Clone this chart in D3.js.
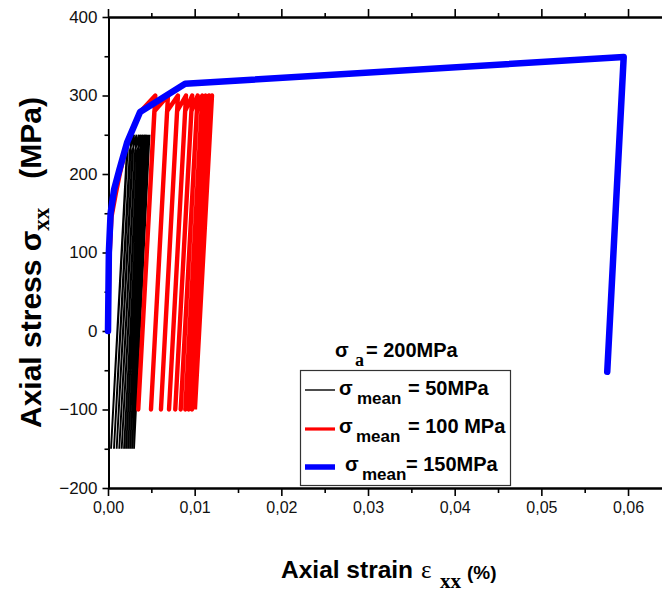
<!DOCTYPE html>
<html>
<head>
<meta charset="utf-8">
<script src="https://cdn.jsdelivr.net/npm/d3@7"></script>
<style>
  html, body { margin: 0; padding: 0; background: #fff; }
  svg { display: block; font-family: "Liberation Sans", Arial, sans-serif; }
</style>
</head>
<body>
<svg id="chart" width="662" height="592"></svg>
<script>
// ---------- data ----------
const xTicks = [0, 0.01, 0.02, 0.03, 0.04, 0.05, 0.06];
const yTicks = [-200, -100, 0, 100, 200, 300, 400];

// sigma_mean = 50 MPa (black)
const blackStrain = [0, 0.0002, 0.0004, 0.0009, 0.0014, 0.00236,
  0.00035, 0.00218, 0.00271,
  0.00069, 0.00252, 0.00300,
  0.00100, 0.00283, 0.00329,
  0.00130, 0.00313, 0.00358,
  0.00158, 0.00341, 0.00381,
  0.00185, 0.00368, 0.00404,
  0.00208, 0.00391, 0.00427,
  0.00231, 0.00414, 0.00444,
  0.00254, 0.00437, 0.00461,
  0.00277, 0.00460, 0.00479,
  0.00300];
const blackStress = [0, 100, 145, 175, 202, 250,
  -150, 230, 250,
  -150, 230, 250,
  -150, 230, 250,
  -150, 230, 250,
  -150, 230, 250,
  -150, 230, 250,
  -150, 230, 250,
  -150, 230, 250,
  -150, 230, 250,
  -150, 230, 250,
  -150];

// sigma_mean = 100 MPa (red)
const redStrain = [0, 0.0002, 0.0004, 0.0009, 0.0014, 0.0022, 0.0037, 0.00546,
  0.00349, 0.00535, 0.00692,
  0.00496, 0.00682, 0.00807,
  0.00611, 0.00797, 0.00900,
  0.00704, 0.00890, 0.00972,
  0.00776, 0.00962, 0.01035,
  0.00839, 0.01025, 0.01088,
  0.00892, 0.01078, 0.01127,
  0.00931, 0.01117, 0.01165,
  0.00969, 0.01155, 0.01200,
  0.01003];
const redStress = [0, 100, 145, 175, 202, 240, 279, 300,
  -100, 280, 300,
  -100, 280, 300,
  -100, 280, 300,
  -100, 280, 300,
  -100, 280, 300,
  -100, 280, 300,
  -100, 280, 300,
  -100, 280, 300,
  -100, 280, 300,
  -100];

// sigma_mean = 150 MPa (blue)
const blueStrain = [0, 0.0001, 0.0003, 0.0007, 0.0013, 0.0022, 0.0037, 0.0089, 0.0595, 0.0576];
const blueStress = [0, 100, 150, 180, 205, 240, 279, 315, 349, -52];

const seriesNames = ["= 50MPa", "= 100 MPa", "= 150MPa"];
const seriesColors = ["#000000", "#ff0000", "#0000ff"];

// ---------- drawing ----------
const svg = d3.select("#chart");
const x = d3.scaleLinear().domain([0, 0.064]).range([108, 662.7]);
const y = d3.scaleLinear().domain([-200, 400]).range([488, 17]);

const fmtX = d => d3.format(".2f")(d).replace(".", ",");

function styleAxis(size) {
  return g => {
    g.selectAll("path.domain").attr("stroke", "#000").attr("stroke-width", 2);
    g.selectAll(".tick line").attr("stroke", "#000").attr("stroke-width", 1.6);
    g.selectAll(".tick text").attr("fill", "#111")
      .style("font-family", "'Liberation Sans', Arial, sans-serif").style("font-size", size + "px");
  };
}

const xMinor = d3.range(0.005, 0.064, 0.01);
const yMinor = d3.range(-150, 400, 100);

// bottom
svg.append("g").attr("transform", "translate(0,488)")
  .call(d3.axisBottom(x).tickValues(xTicks).tickFormat(fmtX).tickSize(8).tickSizeOuter(0).tickPadding(6))
  .call(styleAxis(16));
svg.append("g").attr("transform", "translate(0,488)")
  .call(d3.axisBottom(x).tickValues(xMinor).tickFormat("").tickSize(5).tickSizeOuter(0))
  .call(styleAxis(16));
// top
svg.append("g").attr("transform", "translate(0,17)")
  .call(d3.axisTop(x).tickValues(xTicks).tickFormat("").tickSize(8).tickSizeOuter(0))
  .call(styleAxis(16));
svg.append("g").attr("transform", "translate(0,17)")
  .call(d3.axisTop(x).tickValues(xMinor).tickFormat("").tickSize(4).tickSizeOuter(0))
  .call(styleAxis(16));
// left
svg.append("g").attr("transform", "translate(108.5,0)")
  .call(d3.axisLeft(y).tickValues(yTicks).tickSize(6).tickSizeOuter(0).tickPadding(5))
  .call(styleAxis(17));
svg.append("g").attr("transform", "translate(108.5,0)")
  .call(d3.axisLeft(y).tickValues(yMinor).tickFormat("").tickSize(4).tickSizeOuter(0))
  .call(styleAxis(17));

const line = d3.line().x(d => x(d[0])).y(d => y(d[1]));
const zip = (a, b) => a.map((v, i) => [v, b[i]]);

svg.append("path").datum(zip(blackStrain, blackStress))
  .attr("fill", "none").attr("stroke", seriesColors[0]).attr("stroke-width", 1.9)
  .attr("stroke-linejoin", "miter").attr("d", line);
svg.append("path").datum(zip(redStrain, redStress))
  .attr("fill", "none").attr("stroke", seriesColors[1]).attr("stroke-width", 4.4)
  .attr("stroke-linejoin", "round").attr("d", line);
svg.append("path").datum(zip(blueStrain, blueStress))
  .attr("fill", "none").attr("stroke", seriesColors[2]).attr("stroke-width", 6.5)
  .attr("stroke-linejoin", "round").attr("stroke-linecap", "round").attr("d", line);

// ---------- legend ----------
const leg = svg.append("g");
const t = leg.append("text").attr("font-weight", "bold").attr("fill", "#000");
t.append("tspan").attr("x", 335).attr("y", 357).style("font-size", "20px").text("σ");
t.append("tspan").attr("x", 355).attr("y", 366).style("font-size", "18px")
  .style("font-family", "'Liberation Serif', 'Times New Roman', serif").text("a");
t.append("tspan").attr("x", 366).attr("y", 357).style("font-size", "20px").text("= 200MPa");

leg.append("rect").attr("x", 300.5).attr("y", 370.5).attr("width", 210).attr("height", 115)
  .attr("fill", "#fff").attr("stroke", "#333").attr("stroke-width", 1.2);

const legRows = [
  {ly: 390, by: 395, sx: 339, mx: 357, vx: 408, w: 1.4},
  {ly: 429, by: 433, sx: 339, mx: 356, vx: 408, w: 3.2},
  {ly: 467, by: 471, sx: 345, mx: 362, vx: 406, w: 5.5}
];
legRows.forEach((r, i) => {
  leg.append("line").attr("x1", 305).attr("x2", 335).attr("y1", r.ly).attr("y2", r.ly)
    .attr("stroke", seriesColors[i]).attr("stroke-width", r.w);
  const tx = leg.append("text").attr("font-weight", "bold").attr("fill", "#000");
  tx.append("tspan").attr("x", r.sx).attr("y", r.by).style("font-size", "20px").text("σ");
  tx.append("tspan").attr("x", r.mx).attr("y", r.by + 9).style("font-size", "17px").text("mean");
  tx.append("tspan").attr("x", r.vx).attr("y", r.by).style("font-size", "20px").text(seriesNames[i]);
});

// ---------- axis titles ----------
const xt = svg.append("text").attr("font-weight", "bold").attr("fill", "#000");
xt.append("tspan").attr("x", 281).attr("y", 578).style("font-size", "24.5px").text("Axial strain");
xt.append("tspan").attr("x", 421).attr("y", 578).style("font-size", "25px")
  .style("font-family", "'Liberation Serif', serif").attr("font-weight", "normal").text("ε");
xt.append("tspan").attr("x", 440).attr("y", 588).style("font-size", "21px")
  .style("font-family", "'Liberation Serif', serif").text("xx");
xt.append("tspan").attr("x", 467).attr("y", 579).style("font-size", "19px").text("(%)");

const yt = svg.append("g").attr("transform", "translate(41,0) rotate(-90)");
const ytA = yt.append("text").attr("font-weight", "bold").attr("fill", "#000")
  .attr("x", -428).attr("y", 0);
ytA.append("tspan").style("font-size", "30px").text("Axial stress σ");
ytA.append("tspan").attr("dy", 8).style("font-size", "23px")
  .style("font-family", "'Liberation Serif', serif").text("xx");
yt.append("text").attr("font-weight", "bold").attr("fill", "#000")
  .attr("x", -97).attr("y", 0).attr("text-anchor", "end")
  .style("font-size", "30px").text("(MPa)");
</script>
</body>
</html>
